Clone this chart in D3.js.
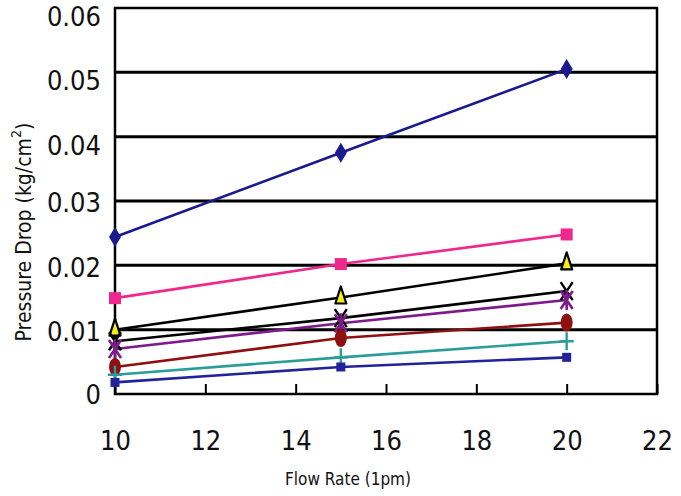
<!DOCTYPE html>
<html><head><meta charset="utf-8">
<script src="https://cdn.jsdelivr.net/npm/d3@7"></script>
<style>
html,body{margin:0;padding:0;background:#fff;}
svg{display:block;}
text{font-family:"Liberation Sans Narrow","DejaVu Sans Condensed","Liberation Sans",sans-serif;fill:#111;}
</style></head>
<body>
<svg id="chart" width="681" height="496"></svg>
<script>
const flowRates = [10, 15, 20];
const xTicks = [10, 12, 14, 16, 18, 20, 22];
const yTicks = [0, 0.01, 0.02, 0.03, 0.04, 0.05, 0.06];
const yTickLabels = ["0", "0.01", "0.02", "0.03", "0.04", "0.05", "0.06"];
const s1 = [0.0244, 0.0375, 0.0505];
const s2 = [0.0149, 0.0202, 0.0248];
const s3 = [0.0100, 0.0150, 0.0203];
const s4 = [0.0082, 0.0118, 0.0160];
const s5 = [0.0070, 0.0110, 0.0146];
const s6 = [0.0042, 0.0087, 0.0111];
const s7 = [0.0030, 0.0057, 0.0082];
const s8 = [0.0018, 0.0042, 0.0057];
const seriesValues = [s1, s2, s3, s4, s5, s6, s7, s8];
const seriesColors = ["#1b1a8e", "#f0288c", "#000000", "#000000", "#7d1a8c", "#8e1010", "#2a9d9a", "#22229a"];
const seriesMarkers = ["diamond", "square", "triangle", "x", "star", "circle", "plus", "smallsquare"];

const svg = d3.select("#chart");
const L = 115, R = 657, T = 8, B = 394;
const x = d3.scaleLinear().domain([10, 22]).range([L, R]);
const y = d3.scaleLinear().domain([0, 0.06]).range([B, T]);

// gridlines
svg.append("g").selectAll("line").data(yTicks.slice(1, -1)).join("line")
  .attr("x1", L).attr("x2", R).attr("y1", d => y(d)).attr("y2", d => y(d))
  .attr("stroke", "#000").attr("stroke-width", 3);

// frame
svg.append("rect").attr("x", L).attr("y", T).attr("width", R - L).attr("height", B - T)
  .attr("fill", "none").attr("stroke", "#000").attr("stroke-width", 2.5);

// x axis ticks (inside, upward)
const xAxis = d3.axisBottom(x).tickValues(xTicks).tickSize(-10).tickPadding(36).tickFormat(d3.format("d"));
const gx = svg.append("g").attr("transform", `translate(0,${B})`).call(xAxis);
gx.select(".domain").remove();
gx.selectAll(".tick line").attr("stroke", "#000").attr("stroke-width", 2);
gx.selectAll(".tick text").attr("font-size", 27).attr("fill", "#111").attr("dy", "0.75em");

// y axis labels
const yAxis = d3.axisLeft(y).tickValues(yTicks).tickSize(0).tickPadding(14).tickFormat((d, i) => yTickLabels[i]);
const gy = svg.append("g").attr("transform", `translate(${L},0)`).call(yAxis);
gy.select(".domain").remove();
gy.selectAll(".tick text").attr("font-size", 27).attr("fill", "#111")
  .attr("dy", (d, i) => (i === 0 ? "0.35em" : (i >= 4 ? "0.65em" : "0.4em")));

// axis titles
svg.append("text").attr("transform", `translate(31,${232}) rotate(-90)`)
  .attr("text-anchor", "middle").attr("font-size", 21)
  .style("font-family", "'DejaVu Sans Condensed','Liberation Sans Narrow',sans-serif")
  .html('Pressure Drop (kg/cm<tspan dy="-10" font-size="14">2</tspan><tspan dy="10">)</tspan>');
svg.append("text").attr("x", 348).attr("y", 485).attr("text-anchor", "middle").attr("font-size", 17)
  .style("font-family", "'DejaVu Sans Condensed','Liberation Sans Narrow',sans-serif")
  .text("Flow Rate (1pm)");

// lines
const line = d3.line().x((d, i) => x(flowRates[i])).y(d => y(d));
const gs = svg.append("g");
seriesValues.forEach((vals, k) => {
  gs.append("path").datum(vals).attr("d", line).attr("fill", "none")
    .attr("stroke", seriesColors[k]).attr("stroke-width", 2.6);
});

// markers
function drawMarker(g, type, cx, cy, color) {
  if (type === "diamond") {
    g.append("path").attr("d", `M${cx},${cy-10}L${cx+6},${cy}L${cx},${cy+10}L${cx-6},${cy}Z`).attr("fill", color);
  } else if (type === "square") {
    g.append("rect").attr("x", cx-6).attr("y", cy-6).attr("width", 12).attr("height", 12).attr("fill", color);
  } else if (type === "smallsquare") {
    g.append("rect").attr("x", cx-4.5).attr("y", cy-4.5).attr("width", 9).attr("height", 9).attr("fill", color);
  } else if (type === "triangle") {
    g.append("path").attr("d", `M${cx},${cy-11}L${cx+5.5},${cy+6}L${cx-5.5},${cy+6}Z`)
      .attr("fill", "#f5ec1a").attr("stroke", "#000").attr("stroke-width", 2.2).attr("stroke-linejoin", "round");
  } else if (type === "x") {
    g.append("path").attr("d", `M${cx-6},${cy-9}L${cx+6},${cy+9}M${cx+6},${cy-9}L${cx-6},${cy+9}`)
      .attr("stroke", color).attr("stroke-width", 2.4);
  } else if (type === "star") {
    g.append("path").attr("d", `M${cx-6},${cy-9}L${cx+6},${cy+9}M${cx+6},${cy-9}L${cx-6},${cy+9}M${cx},${cy-10}L${cx},${cy+10}`)
      .attr("stroke", color).attr("stroke-width", 2.6);
  } else if (type === "circle") {
    g.append("ellipse").attr("cx", cx).attr("cy", cy).attr("rx", 6).attr("ry", 9).attr("fill", color);
  } else if (type === "plus") {
    g.append("path").attr("d", `M${cx-7},${cy}L${cx+7},${cy}M${cx},${cy-9}L${cx},${cy+9}`)
      .attr("stroke", color).attr("stroke-width", 2.4);
  }
}
const gm = svg.append("g");
seriesValues.forEach((vals, k) => {
  vals.forEach((v, i) => drawMarker(gm, seriesMarkers[k], x(flowRates[i]), y(v), seriesColors[k]));
});
</script>
</body></html>
